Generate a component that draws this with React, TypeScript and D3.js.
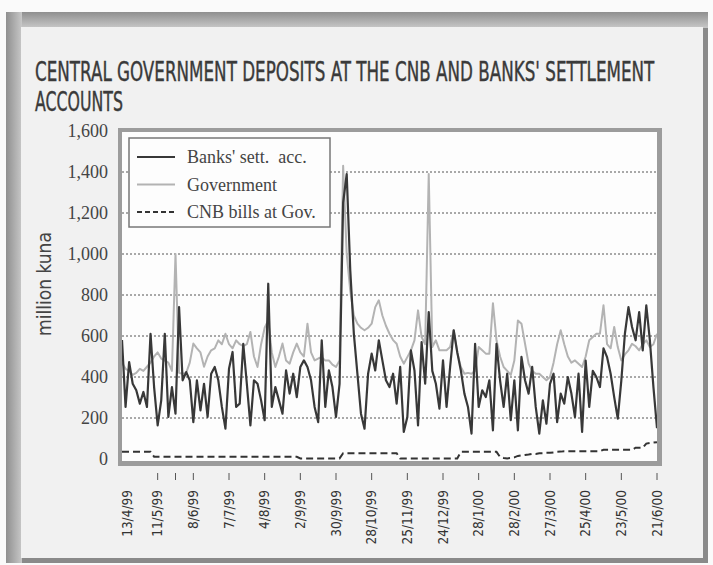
import React, { useLayoutEffect, useRef, useState } from "react";
import * as d3 from "d3";

const tickLabels = ["13/4/99","11/5/99","8/6/99","7/7/99","4/8/99","2/9/99","30/9/99","28/10/99","25/11/99","24/12/99","28/1/00","28/2/00","27/3/00","25/4/00","23/5/00","21/6/00"];
const yTicks = [0,200,400,600,800,1000,1200,1400,1600];
const gridValues = [200,400,600,800,1000,1200,1400];
const tickDays = [20,30,40,60,80,100,120,140,160,180,200,220,240,260,280,300];

// one value every two business days
const banks = [
580,254,473,367,335,270,327,254,611,351,
164,286,611,205,351,221,741,384,424,384,
180,384,237,367,205,416,449,384,254,148,
440,522,254,270,562,367,164,384,367,286,
189,855,254,351,286,221,432,319,416,302,
449,481,449,384,254,180,579,254,432,351,
205,367,1250,1390,920,612,416,221,148,416,
514,432,579,481,384,351,416,270,449,132,
205,530,432,164,570,367,717,430,367,246,
481,254,449,628,520,432,319,254,124,562,
254,335,302,384,140,562,384,254,416,189,
384,140,498,384,319,449,254,124,286,172,
367,416,180,319,270,400,319,205,416,132,
480,254,430,400,351,540,497,416,302,197,
384,611,741,644,579,717,530,750,579,351,150];

const government = [
470,440,430,410,420,440,430,450,470,500,
520,490,480,470,430,1000,420,416,420,470,
563,540,520,450,500,530,540,579,560,611,
560,540,579,560,550,560,620,500,449,560,
640,676,520,449,500,563,480,465,520,563,
520,500,660,520,481,490,497,480,481,460,
449,481,1430,1000,820,700,660,640,628,640,
660,741,774,700,650,611,580,562,500,465,
497,530,579,725,595,560,1390,546,579,530,
530,530,546,628,520,449,416,420,416,430,
546,530,514,514,760,579,500,449,430,410,
480,676,660,562,465,430,416,416,400,384,
400,470,560,628,560,500,470,481,465,449,
500,579,595,611,611,750,560,540,644,546,
481,510,530,562,550,530,560,579,546,560,611];

const cnbBills = [
35,35,35,35,35,35,35,35,35,
11,11,11,11,11,11,11,11,11,11,11,11,11,11,11,11,11,11,11,11,11,11,11,11,11,11,11,11,11,11,11,11,11,11,11,11,11,11,11,11,11,
3,3,3,3,3,3,3,3,3,3,3,3,
28,28,28,28,28,28,28,28,28,28,28,28,28,28,28,28,
3,3,3,3,3,3,3,3,3,3,3,3,3,3,3,3,3,
35,35,35,35,35,35,35,35,35,35,35,
10,5,3,5,8,
15,18,20,22,25,25,28,28,30,30,32,35,36,
38,38,38,38,38,38,38,38,38,38,38,
45,45,45,45,45,45,45,45,45,
55,55,55,
75,78,80,82];

const seriesNames = ["Banks' sett.\u00a0\u00a0acc.", "Government", "CNB bills at Gov."];
const titleLines = ["CENTRAL GOVERNMENT DEPOSITS AT THE CNB AND BANKS' SETTLEMENT", "ACCOUNTS"];
const yAxisTitle = "million kuna";

function FitText({ x, y, width, children, ...rest }: any) {
  const ref = useRef<SVGTextElement>(null);
  const [sx, setSx] = useState(1);
  useLayoutEffect(() => {
    if (ref.current) {
      const w = ref.current.getBBox().width;
      if (w > 0) setSx(width / w);
    }
  }, [width]);
  return (
    <g transform={`translate(${x},${y}) scale(${sx},1)`}>
      <text ref={ref} x={0} y={0} {...rest}>{children}</text>
    </g>
  );
}

export default function App() {
  const x = d3.scaleLinear().domain([0, 300]).range([122, 657]);
  const y = d3.scaleLinear().domain([0, 1600]).range([459, 131]);
  const line = d3.line<number>().x((_, i) => x(i * 2)).y((d) => y(d));

  const serif = "'Liberation Serif', 'Times New Roman', serif";
  const narrow = "'Liberation Sans Narrow', 'DejaVu Sans Condensed', sans-serif";

  return (
    <svg width={713} height={565} style={{ position: "absolute", left: 0, top: 0, background: "#fafafa" }}>
      <defs>
        <linearGradient id="gTop" x1="0" y1="0" x2="0" y2="1">
          <stop offset="0" stopColor="#8f8f8f" />
          <stop offset="1" stopColor="#c8c8c8" />
        </linearGradient>
        <linearGradient id="gLeft" x1="0" y1="0" x2="1" y2="0">
          <stop offset="0" stopColor="#8f8f8f" />
          <stop offset="1" stopColor="#c8c8c8" />
        </linearGradient>
        <clipPath id="plotClip">
          <rect x={122} y={132} width={535} height={329} />
        </clipPath>
      </defs>

      {/* outer panel */}
      <rect x={6} y={12} width={702} height={551} fill="#8a8a8a" />
      <rect x={6} y={12} width={702} height={16} fill="url(#gTop)" />
      <rect x={6} y={12} width={16} height={551} fill="url(#gLeft)" />
      <rect x={21} y={27} width={682} height={531} fill="#f1f1f1" />

      {/* title */}
      <FitText x={35} y={81} width={620} fontFamily={narrow} fontSize={26} fill="#3a3a3a" stroke="#3a3a3a" strokeWidth={0.4}>
        {titleLines[0]}
      </FitText>
      <FitText x={35} y={111} width={88} fontFamily={narrow} fontSize={26} fill="#3a3a3a" stroke="#3a3a3a" strokeWidth={0.4}>
        {titleLines[1]}
      </FitText>

      {/* plot frame */}
      <rect x={118} y={128} width={544} height={338} fill="#9c9c9c" />
      <rect x={122} y={132} width={535} height={329} fill="#fdfdfd" />

      {/* grid */}
      {gridValues.map((v) => (
        <line key={v} x1={122} x2={657} y1={y(v)} y2={y(v)} stroke="#555" strokeWidth={1} strokeDasharray="2,2" />
      ))}

      {/* y labels */}
      {yTicks.map((v) => (
        <text key={v} x={108} y={y(v)} dy="0.35em" textAnchor="end" fontFamily={serif} fontSize={18} fill="#444">
          {d3.format(",")(v)}
        </text>
      ))}
      <text transform="translate(51,284) rotate(-90)" textAnchor="middle" fontFamily={narrow} fontSize={19} fill="#444">
        {yAxisTitle}
      </text>

      {/* series */}
      <g clipPath="url(#plotClip)">
        <path d={line(government) || ""} fill="none" stroke="#b3b3b3" strokeWidth={2} strokeLinejoin="round" />
        <path d={line(cnbBills) || ""} fill="none" stroke="#333" strokeWidth={2} strokeDasharray="7,4" />
        <path d={line(banks) || ""} fill="none" stroke="#383838" strokeWidth={2.2} strokeLinejoin="round" />
      </g>

      {/* x ticks */}
      {tickDays.map((d) => (
        <line key={d} x1={x(d)} x2={x(d)} y1={473} y2={480} stroke="#555" strokeWidth={1} />
      ))}
      {tickLabels.map((t, i) => (
        <text
          key={t}
          transform={`translate(${x(i * 20) + (i === 0 ? 5 : 0)},490) rotate(-90)`}
          textAnchor="end"
          dy="0.35em"
          fontFamily={narrow}
          fontSize={13.5}
          fill="#333"
        >
          {t}
        </text>
      ))}

      {/* legend */}
      <rect x={129} y={138} width={201} height={89} fill="#fdfdfd" stroke="#777" strokeWidth={1.5} />
      {seriesNames.map((name, i) => {
        const ly = 157 + i * 27.5;
        const stroke = i === 0 ? "#383838" : i === 1 ? "#b3b3b3" : "#333";
        return (
          <g key={name}>
            <line x1={137} x2={175} y1={ly} y2={ly} stroke={stroke} strokeWidth={2} strokeDasharray={i === 2 ? "5,3" : undefined} />
            <text x={187} y={ly} dy="0.35em" fontFamily={serif} fontSize={18} fill="#444">
              {name}
            </text>
          </g>
        );
      })}
    </svg>
  );
}
